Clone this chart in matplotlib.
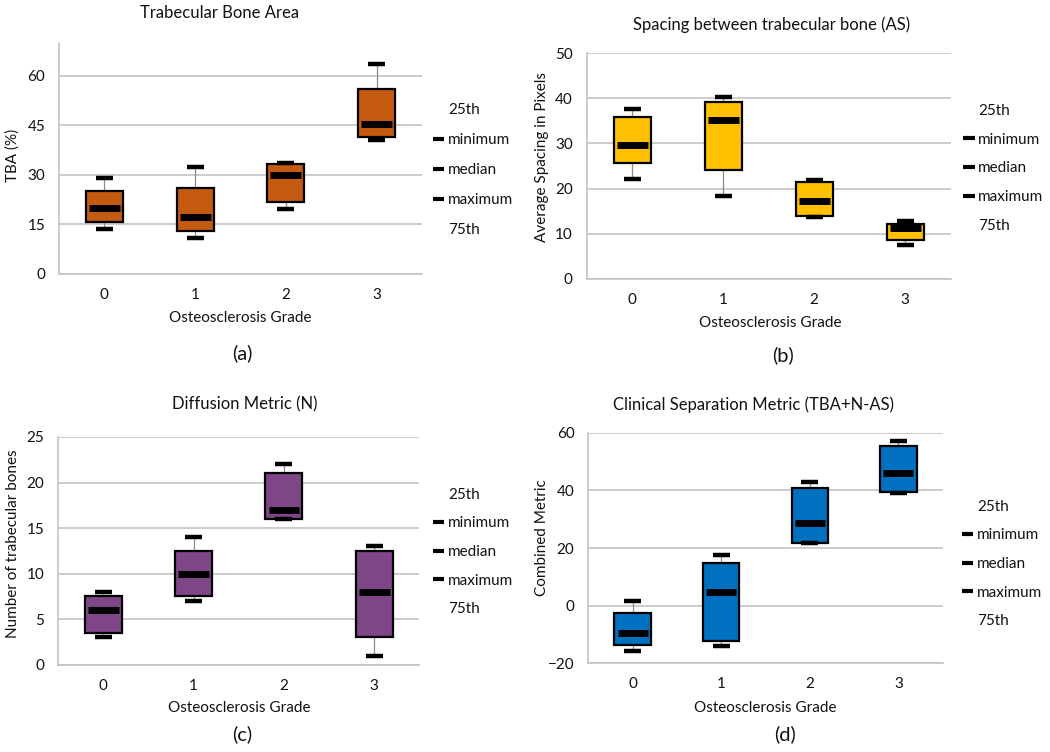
import matplotlib
matplotlib.use("Agg")
import matplotlib.pyplot as plt
from matplotlib.lines import Line2D

plt.rcParams['font.family'] = ['Lato', 'DejaVu Sans']

grades = [0, 1, 2, 3]
grade_labels = ["0", "1", "2", "3"]
legend_labels = ["25th", "minimum", "median", "maximum", "75th"]

# (a) Trabecular Bone Area
tba_min = [13.7, 10.9, 19.6, 40.7]
tba_q1 = [15.7, 13.1, 21.7, 41.4]
tba_med = [20.1, 17.3, 30.0, 45.5]
tba_q3 = [25.1, 26.2, 33.2, 56.1]
tba_max = [29.0, 32.4, 33.6, 63.6]

# (b) Spacing between trabecular bone
as_min = [22.2, 18.3, 13.6, 7.5]
as_q1 = [25.7, 24.2, 13.9, 8.5]
as_med = [29.7, 35.1, 17.2, 11.2]
as_q3 = [35.9, 39.3, 21.4, 12.1]
as_max = [37.6, 40.4, 21.9, 12.9]

# (c) Diffusion Metric
n_min = [3.0, 7.0, 16.0, 1.0]
n_q1 = [3.5, 7.5, 16.0, 3.0]
n_med = [6.0, 10.0, 17.0, 8.0]
n_q3 = [7.5, 12.5, 21.0, 12.5]
n_max = [8.0, 14.0, 22.0, 13.0]

# (d) Clinical Separation Metric
cs_min = [-15.8, -14.0, 21.7, 39.0]
cs_q1 = [-13.6, -12.1, 21.8, 39.4]
cs_med = [-9.6, 4.9, 28.6, 46.0]
cs_q3 = [-2.5, 14.8, 40.8, 55.3]
cs_max = [1.7, 17.6, 42.8, 57.0]

W, H = 1050, 752
fig = plt.figure(figsize=(W / 100, H / 100), dpi=100)


def px_axes(left, right, top, bottom):
    return fig.add_axes([left / W, 1 - bottom / H, (right - left) / W, (bottom - top) / H])


panels = [
    dict(rect=(59, 422, 43, 274), data=(tba_min, tba_q1, tba_med, tba_q3, tba_max),
         color="#C55A11", ylim=(0, 70), yticks=[0, 15, 30, 45, 60],
         title="Trabecular Bone Area", title_xy=(0.443, 1.13),
         ylabel="TBA (%)", ylabel_xy=(-0.127, 0.515),
         xlabel_xy=(0.5, -0.19), leg=(1.03, 0.45), spacing=1.05,
         letter="(a)", letter_px=(242, 353)),
    dict(rect=(586.7, 950.7, 53.3, 278.7), data=(as_min, as_q1, as_med, as_q3, as_max),
         color="#FFC000", ylim=(0, 50), yticks=[0, 10, 20, 30, 40, 50],
         title="Spacing between trabecular bone (AS)", title_xy=(0.509, 1.126),
         ylabel="Average Spacing in Pixels", ylabel_xy=(-0.124, 0.54),
         xlabel_xy=(0.504, -0.197), leg=(1.034, 0.489), spacing=0.97,
         letter="(b)", letter_px=(783, 355)),
    dict(rect=(58.3, 419.3, 437, 664.7), data=(n_min, n_q1, n_med, n_q3, n_max),
         color="#7E4587", ylim=(0, 25), yticks=[0, 5, 10, 15, 20, 25],
         title="Diffusion Metric (N)", title_xy=(0.517, 1.145),
         ylabel="Number of trabecular bones", ylabel_xy=(-0.126, 0.53),
         xlabel_xy=(0.5, -0.19), leg=(1.038, 0.495), spacing=0.96,
         letter="(c)", letter_px=(242, 734)),
    dict(rect=(588.3, 942.7, 432.7, 663.3), data=(cs_min, cs_q1, cs_med, cs_q3, cs_max),
         color="#0070C0", ylim=(-20, 60), yticks=[-20, 0, 20, 40, 60],
         title="Clinical Separation Metric (TBA+N-AS)", title_xy=(0.465, 1.12),
         ylabel="Combined Metric", ylabel_xy=(-0.131, 0.543),
         xlabel_xy=(0.5, -0.194), leg=(1.054, 0.43), spacing=0.96,
         letter="(d)", letter_px=(785, 734)),
]

grid_col = "#BFBFBF"
txt_col = "#111111"
fs = 11

for p in panels:
    ax = px_axes(*p["rect"])
    mins, q1s, meds, q3s, maxs = p["data"]
    stats = [dict(whislo=lo, q1=a, med=m, q3=b, whishi=hi, label=l)
             for lo, a, m, b, hi, l in zip(mins, q1s, meds, q3s, maxs, grade_labels)]
    ax.bxp(stats, positions=grades, widths=0.41, patch_artist=True,
           showfliers=False, capwidths=0.19,
           boxprops=dict(facecolor=p["color"], edgecolor="black", linewidth=1.6, zorder=3),
           whiskerprops=dict(color="#8C8C8C", linewidth=0.9, zorder=2),
           capprops=dict(color="black", linewidth=3.2, solid_capstyle="butt", zorder=3),
           medianprops=dict(visible=False))
    ax.hlines(meds, [g - 0.17 for g in grades], [g + 0.17 for g in grades],
              colors="black", linewidth=5, zorder=4)

    ax.set_xlim(-0.5, 3.5)
    ax.set_ylim(*p["ylim"])
    ax.set_yticks(p["yticks"])
    ax.set_xticks(grades)
    ax.set_xticklabels(grade_labels)
    ax.tick_params(length=0, labelsize=fs, colors=txt_col)
    ax.tick_params(axis="y", pad=10)
    ax.tick_params(axis="x", pad=10)
    ax.set_axisbelow(True)
    ax.yaxis.grid(True, color=grid_col, linewidth=1.1)
    for s in ["top", "right"]:
        ax.spines[s].set_visible(False)
    for s in ["left", "bottom"]:
        ax.spines[s].set_color(grid_col)
        ax.spines[s].set_linewidth(1.1)

    ax.text(*p["title_xy"], p["title"], transform=ax.transAxes, ha="center", va="center",
            fontsize=12, color=txt_col)
    ax.text(*p["ylabel_xy"], p["ylabel"], transform=ax.transAxes, ha="center", va="center",
            rotation=90, fontsize=fs, color=txt_col)
    ax.text(*p["xlabel_xy"], "Osteosclerosis Grade", transform=ax.transAxes, ha="center",
            va="center", fontsize=fs, color=txt_col)
    fig.text(p["letter_px"][0] / W, 1 - p["letter_px"][1] / H, p["letter"], ha="center",
             va="center", fontsize=14.5, color=txt_col)

    handles = []
    for lab in legend_labels:
        vis = lab in ("minimum", "median", "maximum")
        handles.append(Line2D([], [], color="black", linewidth=3, visible=vis,
                              solid_capstyle="butt"))
    ax.legend(handles, legend_labels, loc="center left", bbox_to_anchor=p["leg"],
              frameon=False, fontsize=fs, handlelength=0.75, handletextpad=0.25,
              labelspacing=p["spacing"], borderpad=0, borderaxespad=0, labelcolor=txt_col)

fig.savefig("out.png", dpi=100)
